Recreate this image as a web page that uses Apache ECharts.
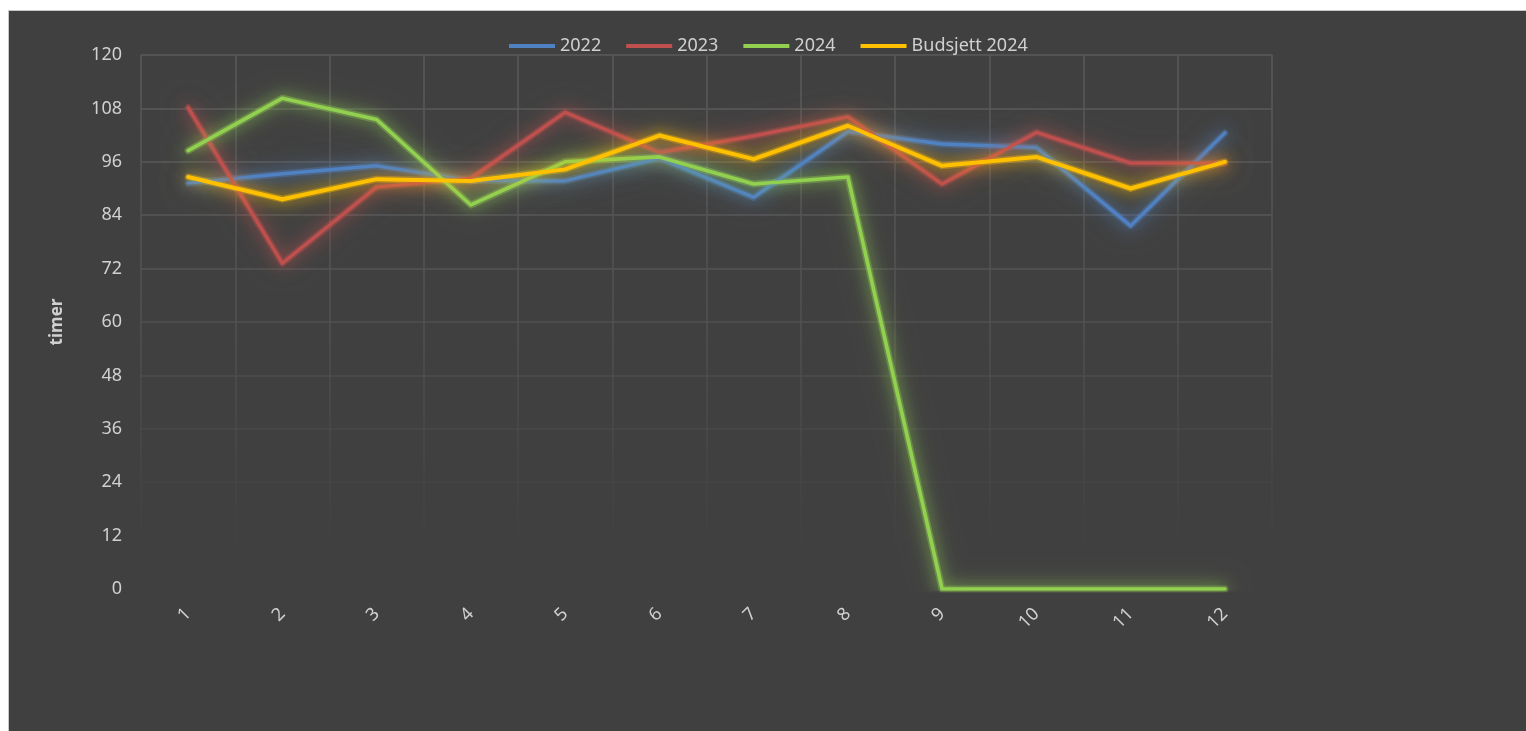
<!DOCTYPE html>
<html>
<head>
<meta charset="utf-8">
<script src="https://cdn.jsdelivr.net/npm/echarts@6/dist/echarts.min.js"></script>
<style>
html,body{margin:0;padding:0;background:#ffffff;width:1526px;height:731px;overflow:hidden;}
#chart{position:absolute;left:8px;top:10px;width:1517px;height:720px;border-left:1px solid #c8c8c8;border-top:1px solid #c8c8c8;background:#404040;}
</style>
</head>
<body>
<div id="chart"></div>
<script>
const categories = ['1','2','3','4','5','6','7','8','9','10','11','12'];
const yTicks = [0,12,24,36,48,60,72,84,96,108,120];
const s2022 = [91.2, 93.3, 95.1, 91.8, 91.7, 96.8, 88.0, 102.8, 100.0, 99.2, 81.6, 102.5];
const s2023 = [108.2, 73.2, 90.3, 92.3, 107.1, 98.1, 101.8, 106.1, 91.0, 102.6, 95.7, 95.7];
const s2024 = [98.5, 110.3, 105.5, 86.3, 96.0, 97.1, 91.0, 92.6, 0, 0, 0, 0];
const sBudsjett = [92.6, 87.6, 92.1, 91.7, 94.3, 101.9, 96.6, 104.1, 95.1, 97.1, 90.0, 96.0];
const seriesNames = ['2022','2023','2024','Budsjett 2024'];
const seriesColors = ['#4f81c3','#c0504d','#92d050','#ffc000'];
const glowColors = ['rgba(79,129,195,1)','rgba(192,80,77,1)','rgba(146,208,80,1)','rgba(255,192,0,0.9)'];
const lineWidths = [3.4,3.4,3.6,4];
const seriesData = [s2022, s2023, s2024, sBudsjett];

const chart = echarts.init(document.getElementById('chart'));
const FONT = 'Noto Sans';
const txt = '#d0d0d0';

const glowSeries = seriesNames.map((n, i) => ({
  name: n + ' glød',
  type: 'line',
  data: seriesData[i],
  symbol: 'none',
  silent: true,
  legendHoverLink: false,
  lineStyle: {
    color: seriesColors[i],
    width: 7,
    opacity: 0.35,
    shadowBlur: 24,
    shadowColor: glowColors[i],
    cap: 'round',
    join: 'round'
  },
  z: 1
}));

const mainSeries = seriesNames.map((n, i) => ({
  name: n,
  type: 'line',
  data: seriesData[i],
  symbol: 'none',
  color: seriesColors[i],
  lineStyle: {
    color: seriesColors[i],
    width: lineWidths[i],
    shadowBlur: 14,
    shadowColor: glowColors[i],
    cap: 'round',
    join: 'round'
  },
  z: 3 + i
}));

const option = {
  backgroundColor: '#404040',
  animation: false,
  legend: {
    left: 495,
    top: 18,
    itemWidth: 46,
    itemHeight: 4,
    itemGap: 25,
    icon: 'rect',
    textStyle: {color: txt, fontFamily: FONT, fontSize: 18, lineHeight: 24},
    data: seriesNames
  },
  grid: {left: 132, top: 44, right: 254, bottom: 142, containLabel: false},
  xAxis: {
    type: 'category',
    data: categories,
    boundaryGap: true,
    axisLine: {show: false},
    axisTick: {show: false},
    axisLabel: {color: txt, fontFamily: FONT, fontSize: 18, rotate: 45, margin: 22},
    splitLine: {
      show: true,
      lineStyle: {
        width: 1.5,
        color: new echarts.graphic.LinearGradient(0, 44, 0, 578, [
          {offset: 0, color: '#5a5a5a'},
          {offset: 0.5, color: '#515151'},
          {offset: 0.85, color: '#434343'},
          {offset: 1, color: 'rgba(64,64,64,0)'}
        ], true)
      }
    }
  },
  yAxis: {
    type: 'value',
    min: 0,
    max: 120,
    interval: 12,
    name: 'timer',
    nameLocation: 'middle',
    nameGap: 75,
    nameTextStyle: {color: txt, fontFamily: FONT, fontSize: 17, fontWeight: 'bold'},
    axisLine: {show: false},
    axisTick: {show: false},
    axisLabel: {color: txt, fontFamily: FONT, fontSize: 18, margin: 19},
    splitLine: {
      show: true,
      lineStyle: {
        width: 1.5,
        color: ['rgba(0,0,0,0)','#424242','#454545','#484848','#4c4c4c','#505050','#545454','#575757','#595959','#5a5a5a','#5a5a5a']
      }
    }
  },
  series: glowSeries.concat(mainSeries)
};
chart.setOption(option);
</script>
</body>
</html>
